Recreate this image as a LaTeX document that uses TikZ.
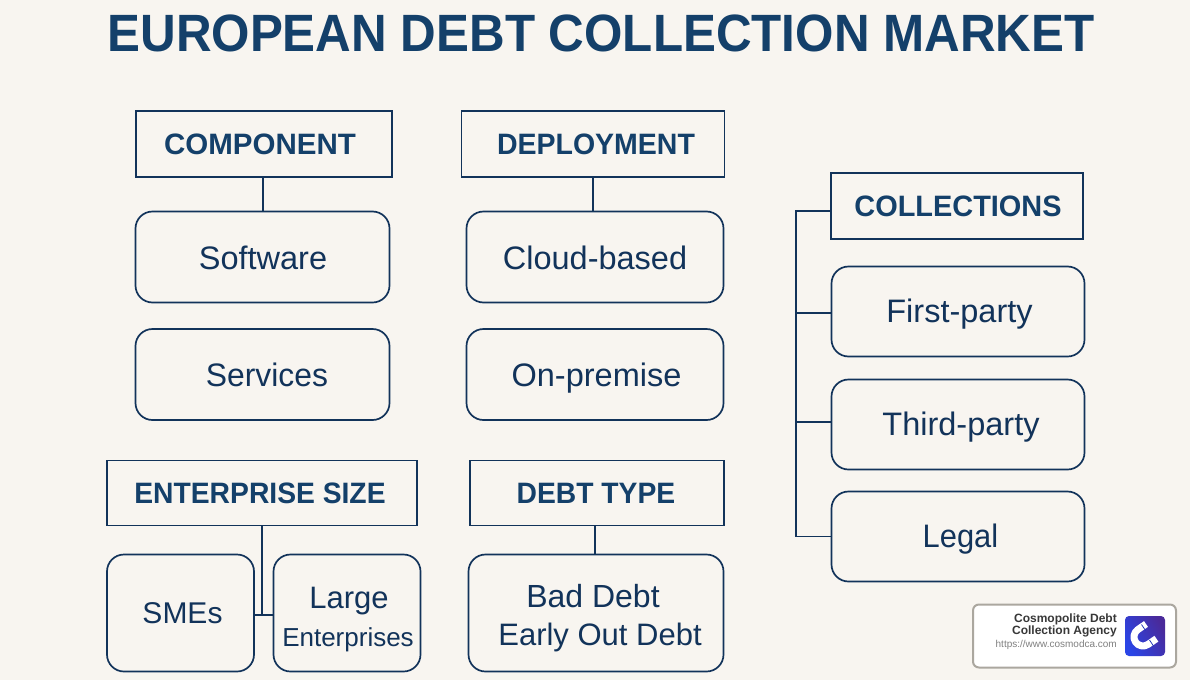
\documentclass[tikz,border=0pt]{standalone}
\usepackage{graphicx}
\usepackage{fontspec}
\setmainfont{Liberation Sans}
\definecolor{bgc}{HTML}{F8F5F0}
\definecolor{ink}{HTML}{12335A}
\definecolor{head}{HTML}{14406A}
\definecolor{badge}{HTML}{ABA79F}
\definecolor{iconA}{HTML}{4A2A9A}
\definecolor{iconB}{HTML}{2A45E6}
\tikzset{
 x=1pt,y=-1pt,
 hbox/.style={draw=ink,line width=1.8pt,inner sep=0pt,text=head,font=\fontsize{29.5}{34}\selectfont\bfseries},
 ibox/.style={draw=ink,line width=1.7pt,rounded corners=17pt,inner sep=0pt,text=ink,align=center,font=\fontsize{32.5}{38}\selectfont},
 lowtext/.style={text height=24pt,text depth=0pt},
 hightext/.style={text height=21pt,text depth=0pt},
 link/.style={draw=ink,line width=1.7pt},
}
% shift a one-line label sideways by half of #1
\newcommand{\nudge}[2]{\hspace*{#1pt}#2}
\newcommand{\narrow}[2]{\scalebox{#1}[1]{#2}}
\begin{document}
\begin{tikzpicture}
\useasboundingbox (0,0) rectangle (1190,680);
\fill[bgc] (0,0) rectangle (1190,680);
\node[text=head,font=\fontsize{52.5}{56}\selectfont\bfseries] (title) at (601,33) {\narrow{0.94}{EUROPEAN DEBT COLLECTION MARKET}};
% heads
\node[hbox,minimum width=256pt,minimum height=66pt] (comp) at (264,144) {\nudge{-8}{COMPONENT}};
\node[hbox,minimum width=263pt,minimum height=66pt] (depl) at (593,144) {\nudge{6}{\narrow{0.966}{DEPLOYMENT}}};
\node[hbox,minimum width=252pt,minimum height=66pt] (coll) at (957,206) {\nudge{2}{\narrow{0.98}{COLLECTIONS}}};
\node[hbox,minimum width=310pt,minimum height=65pt] (ent) at (262,493) {\nudge{-4}{\narrow{0.958}{ENTERPRISE SIZE}}};
\node[hbox,minimum width=254pt,minimum height=65pt] (debt) at (597,493) {\nudge{-2}{\narrow{0.958}{DEBT TYPE}}};
% items
\node[ibox,lowtext,minimum width=254pt,minimum height=91pt] (soft) at (262.5,257) {\nudge{1}{Software}};
\node[ibox,lowtext,minimum width=254pt,minimum height=91pt] (serv) at (262.5,374.5) {\nudge{9}{\narrow{0.98}{Services}}};
\node[ibox,lowtext,minimum width=257pt,minimum height=91pt] (cloud) at (595,257) {Cloud-based};
\node[ibox,lowtext,minimum width=257pt,minimum height=91pt] (prem) at (595,374.5) {\nudge{3}{On-premise}};
\node[ibox,hightext,minimum width=253pt,minimum height=90pt] (first) at (958,311.5) {\nudge{3}{First-party}};
\node[ibox,hightext,minimum width=253pt,minimum height=90pt] (third) at (958,424.5) {\nudge{6}{Third-party}};
\node[ibox,hightext,minimum width=253pt,minimum height=90pt] (legal) at (958,536.5) {\nudge{5}{\narrow{0.95}{Legal}}};
\node[ibox,minimum width=147pt,minimum height=117pt,font=\fontsize{30}{38}\selectfont] (sme) at (180.5,613) {\nudge{4}{SMEs}};
\node[ibox,minimum width=147pt,minimum height=117pt,font=\fontsize{31}{38}\selectfont] (large) at (347,613) {\rule{0pt}{34pt}\nudge{4}{Large}\\{\fontsize{26}{38}\selectfont\nudge{2}{Enterprises}}};
\node[ibox,minimum width=255pt,minimum height=117pt,font=\fontsize{32}{38}\selectfont] (bad) at (596,613) {\rule{0pt}{34pt}\nudge{-6}{Bad Debt}\\{\fontsize{31}{38}\selectfont\nudge{8}{Early Out Debt}}};
% connectors
\path[link] (comp.south -| soft.north) ++(0.5,0) -- ([xshift=0.5pt]soft.north);
\path[link] (depl.south) -- (cloud.north -| depl.south);
\path[link] (debt.south -| bad.north) ++(-1,0) -- ([xshift=-1pt]bad.north);
\coordinate (entjoin) at ([yshift=-2pt]ent.south |- sme.east);
\path[link] (ent.south) -- (entjoin);
\path[link] (sme.east |- entjoin) -- (large.west |- entjoin);
\coordinate (rail) at (796,0);
\coordinate (railtop) at ([yshift=-5pt]rail |- coll.west);
\coordinate (railbot) at (rail |- legal.west);
\path[link] (coll.west |- railtop) -- (railtop) -- (railbot) -- (legal.west);
\path[link] ([yshift=-1.5pt]rail |- first.west) -- ([yshift=-1.5pt]first.west);
\path[link] ([yshift=2.5pt]rail |- third.west) -- ([yshift=2.5pt]third.west);
% badge
\node[draw=badge,fill=white,line width=2pt,rounded corners=6pt,minimum width=203pt,minimum height=63pt,inner sep=0pt] (badgebox) at (1074.5,636) {};
\node[anchor=north east,align=right,inner sep=0pt,text=black!78,font=\fontsize{12}{12.2}\selectfont\bfseries] (bname) at (1117,613.5) {Cosmopolite Debt\\Collection Agency};
\node[anchor=north east,inner sep=0pt,text=black!50,font=\fontsize{10}{12}\selectfont] (burl) at (1117,640.5) {https://www.cosmodca.com};
\shade[left color=iconA,right color=iconB,shading angle=300,rounded corners=4pt] (1125,616) rectangle (1165,656);
\draw[white,line width=7pt,line join=round] (1146,624) -- (1137.8,629.6) arc[start angle=125,end angle=305,radius=9pt] -- (1156.4,638.7);
\draw[iconB!80!black,line width=0.8pt] (1141.5,624.5) -- (1145.5,630.5) (1149.5,640) -- (1153.5,646);
\end{tikzpicture}
\end{document}
